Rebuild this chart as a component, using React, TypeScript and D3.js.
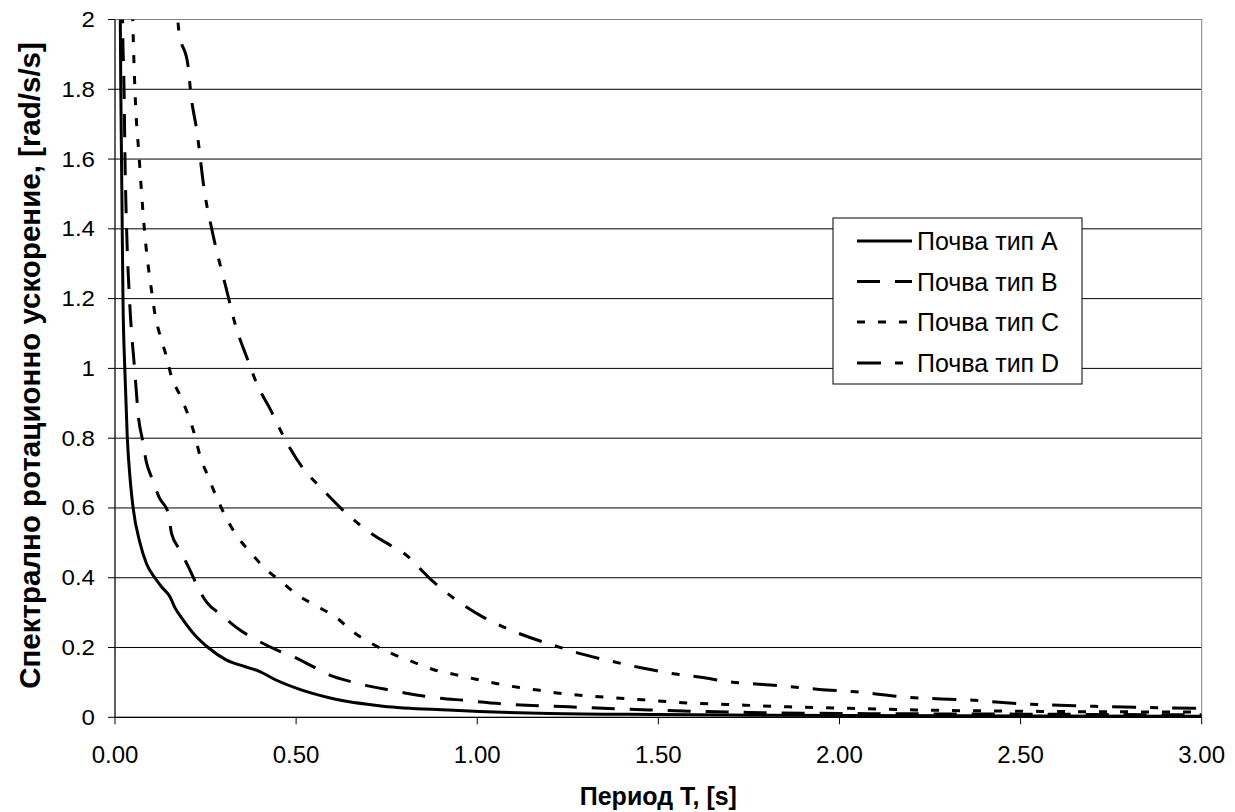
import React from 'react';
import * as d3 from 'd3';

const periodA = [0.01, 0.014, 0.016, 0.019, 0.022, 0.027, 0.034, 0.042, 0.05, 0.069, 0.087, 0.11, 0.13, 0.152, 0.165, 0.184, 0.216, 0.257, 0.308, 0.36, 0.4, 0.44, 0.51, 0.6, 0.74, 0.92, 1.2, 1.5, 2.0, 2.5, 3.0];
const accelA = [2.8, 2.1, 1.8, 1.5, 1.2, 1.0, 0.8, 0.68, 0.6, 0.5, 0.44, 0.4, 0.372, 0.345, 0.315, 0.285, 0.241, 0.2, 0.164, 0.145, 0.131, 0.109, 0.08, 0.054, 0.032, 0.021, 0.011, 0.008, 0.005, 0.004, 0.003];

const periodB = [0.018, 0.021, 0.025, 0.0276, 0.032, 0.04, 0.054, 0.066, 0.075, 0.087, 0.1, 0.123, 0.147, 0.156, 0.179, 0.207, 0.23, 0.253, 0.294, 0.345, 0.39, 0.446, 0.492, 0.547, 0.593, 0.652, 0.698, 0.758, 0.804, 0.864, 0.97, 1.08, 1.254, 1.475, 1.75, 2.0, 2.5, 3.0];
const accelB = [2.6, 2.0, 1.8, 1.6, 1.4, 1.2, 1.0, 0.85, 0.8, 0.73, 0.69, 0.628, 0.585, 0.527, 0.48, 0.422, 0.37, 0.33, 0.293, 0.25, 0.222, 0.193, 0.174, 0.145, 0.121, 0.102, 0.09, 0.078, 0.069, 0.059, 0.048, 0.038, 0.03, 0.021, 0.014, 0.011, 0.009, 0.007];

const periodC = [0.04, 0.049, 0.055, 0.067, 0.081, 0.104, 0.11, 0.124, 0.142, 0.156, 0.179, 0.202, 0.22, 0.234, 0.257, 0.28, 0.303, 0.335, 0.372, 0.414, 0.459, 0.505, 0.556, 0.611, 0.657, 0.708, 0.763, 0.822, 0.878, 0.937, 0.997, 1.052, 1.112, 1.167, 1.227, 1.337, 1.457, 1.567, 1.687, 1.861, 2.026, 2.21, 2.44, 2.7, 3.0];
const accelC = [2.5, 2.0, 1.8, 1.6, 1.4, 1.2, 1.157, 1.096, 1.034, 0.976, 0.924, 0.866, 0.809, 0.752, 0.69, 0.632, 0.58, 0.522, 0.475, 0.427, 0.389, 0.35, 0.319, 0.286, 0.245, 0.212, 0.183, 0.159, 0.137, 0.123, 0.109, 0.097, 0.086, 0.078, 0.069, 0.059, 0.05, 0.042, 0.037, 0.03, 0.026, 0.021, 0.018, 0.016, 0.015];

const periodD = [0.168, 0.176, 0.202, 0.209, 0.226, 0.248, 0.267, 0.308, 0.335, 0.363, 0.395, 0.427, 0.473, 0.519, 0.574, 0.634, 0.694, 0.767, 0.795, 0.873, 0.924, 1.015, 1.07, 1.236, 1.29, 1.369, 1.452, 1.535, 1.617, 1.696, 1.778, 1.861, 1.944, 2.044, 2.19, 2.35, 2.518, 2.683, 2.844, 3.0];
const accelD = [2.1, 1.97, 1.865, 1.79, 1.68, 1.5, 1.4, 1.225, 1.115, 1.034, 0.948, 0.886, 0.79, 0.714, 0.652, 0.589, 0.537, 0.489, 0.472, 0.394, 0.35, 0.288, 0.26, 0.198, 0.181, 0.161, 0.142, 0.126, 0.115, 0.102, 0.095, 0.088, 0.08, 0.073, 0.057, 0.05, 0.038, 0.032, 0.028, 0.026];

const seriesNames = ['Почва тип A', 'Почва тип B', 'Почва тип C', 'Почва тип D'];
const seriesDash = ['none', '23,15', '8,13', '24,14,8,14'];

const xTicks = [0, 0.5, 1.0, 1.5, 2.0, 2.5, 3.0];
const yTicks = [0, 0.2, 0.4, 0.6, 0.8, 1.0, 1.2, 1.4, 1.6, 1.8, 2.0];

const xTitle = 'Период T, [s]';
const yTitle = 'Спектрално ротационно ускорение, [rad/s/s]';

const FONT = '"Liberation Sans", Arial, sans-serif';

export default function App() {
  const W = 1235, H = 812;
  const left = 115, right = 1201.7, top = 19.5, bottom = 717.3;
  const x = d3.scaleLinear().domain([0, 3]).range([left, right]);
  const y = d3.scaleLinear().domain([0, 2]).range([bottom, top]);

  const series = [
    periodA.map((t, i) => [t, accelA[i]] as [number, number]),
    periodB.map((t, i) => [t, accelB[i]] as [number, number]),
    periodC.map((t, i) => [t, accelC[i]] as [number, number]),
    periodD.map((t, i) => [t, accelD[i]] as [number, number]),
  ];
  const line = d3.line<[number, number]>()
    .x(d => x(d[0]))
    .y(d => y(d[1]))
    .curve(d3.curveMonotoneX);

  const legX = 833, legY = 218, legW = 249, legH = 166;
  const rowY = [241, 281.5, 322, 363];

  return (
    <svg width={W} height={H} style={{ position: 'absolute', left: 0, top: 0, display: 'block', background: '#fff' }}
      fontFamily={FONT}>
      <defs>
        <clipPath id="plotClip">
          <rect x={left} y={top} width={right - left} height={bottom - top} />
        </clipPath>
      </defs>
      <rect x={0} y={0} width={W} height={H} fill="#fff" />
      {yTicks.filter(v => v > 0).map(v => (
        <line key={'g' + v} x1={left} x2={right} y1={y(v)} y2={y(v)} stroke="#000" strokeWidth={1} />
      ))}
      <rect x={left} y={top} width={right - left} height={bottom - top} fill="none" stroke="#808080" strokeWidth={1} />
      <line x1={left} x2={left} y1={top} y2={bottom} stroke="#000" strokeWidth={1} />
      <line x1={left} x2={right} y1={bottom} y2={bottom} stroke="#000" strokeWidth={1.2} />
      {yTicks.map(v => (
        <g key={'yt' + v}>
          <line x1={left - 7} x2={left} y1={y(v)} y2={y(v)} stroke="#000" strokeWidth={1} />
          <text transform={`translate(95, ${y(v) + 7.5}) scale(1.12, 1)`} textAnchor="end" fontSize={21.5} fill="#000">
            {String(Math.round(v * 10) / 10)}
          </text>
        </g>
      ))}
      {xTicks.map(v => (
        <g key={'xt' + v}>
          <line x1={x(v)} x2={x(v)} y1={bottom} y2={bottom + 7} stroke="#000" strokeWidth={1} />
          <text x={x(v)} y={763} textAnchor="middle" fontSize={24} fill="#000">{v.toFixed(2)}</text>
        </g>
      ))}
      <g clipPath="url(#plotClip)">
        {series.map((s, i) => (
          <path key={'s' + i} d={line(s) || ''} fill="none" stroke="#000" strokeWidth={3}
            strokeDasharray={seriesDash[i]} strokeLinejoin="round" />
        ))}
      </g>
      <rect x={legX} y={legY} width={legW} height={legH} fill="#fff" stroke="#000" strokeWidth={1} />
      {seriesNames.map((n, i) => (
        <g key={'l' + i}>
          <line x1={857} x2={912} y1={rowY[i]} y2={rowY[i]} stroke="#000" strokeWidth={3} strokeDasharray={seriesDash[i]} />
          <text x={917} y={rowY[i] + 9} fontSize={25} fill="#000">{n}</text>
        </g>
      ))}
      <text x={(left + right) / 2} y={805} textAnchor="middle" fontSize={25} fontWeight="bold" fill="#000">{xTitle}</text>
      <text transform={`translate(40, 365.5) rotate(-90)`} textAnchor="middle" fontSize={29.5} fontWeight="bold" fill="#000">{yTitle}</text>
    </svg>
  );
}
